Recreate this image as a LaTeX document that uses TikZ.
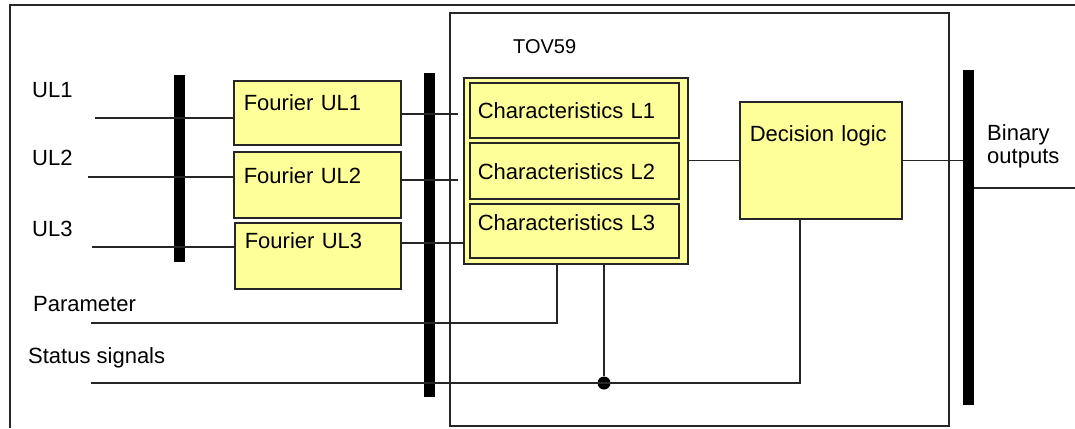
\documentclass[tikz,border=0pt]{standalone}
\usepackage{fontspec}
\setmainfont{Liberation Sans}
\usepackage{xcolor}
\usepackage{tikz}
\usetikzlibrary{positioning,calc}
\definecolor{pbyellow}{RGB}{255,255,153}
\tikzset{
  pbbox/.style={
    rectangle, draw=black!85, line width=1.6pt, fill=pbyellow,
    anchor=north west, inner xsep=10pt, inner ysep=0pt,
    align=left, font=\fontsize{22}{24}\selectfont
  },
  pbchar/.style={pbbox, inner xsep=8pt, text width=193pt},
  pbframe/.style={rectangle, draw=black!85, line width=1.6pt, anchor=north west, inner sep=0pt},
  pbbar/.style={rectangle, fill=black, minimum width=11pt, inner sep=0pt},
  pbline/.style={line width=1.6pt, draw=black!85},
  pblabel/.style={anchor=base west, inner sep=0pt, font=\fontsize{22}{24}\selectfont},
  pbdot/.style={circle, fill=black, minimum size=13pt, inner sep=0pt},
}
\begin{document}
\begin{tikzpicture}[x=1pt, y=-1pt]
  \useasboundingbox (0,0) rectangle (1075,428);
  \draw[pbline] (10,428) -- (10,5) -- (1075,5);
  % function block
  \node (tov) [pbframe, minimum width=499pt, minimum height=413pt] at (449,12) {};
  \node (tovname) [pblabel, font=\fontsize{20}{22}\selectfont] at (513,53) {TOV59};
  % bars
  \node (bar1) [pbbar, minimum height=187pt] at (179,168.5) {};
  \node (bar2) [pbbar, minimum height=324pt] at (429.5,235) {};
  \node (bar3) [pbbar, minimum height=335pt] at (968.5,237.5) {};
  % inputs
  \node (ul1) [pblabel] at (32,97) {UL1};
  \node (ul2) [pblabel] at (32,165) {UL2};
  \node (ul3) [pblabel] at (32,236) {UL3};
  \node (par) [pblabel] at (33,311) {Parameter};
  \node (stat) [pblabel] at (28,363) {Status signals};
  \node (bin) [pblabel, anchor=north west, align=left, font=\fontsize{22}{23}\selectfont] at (987,124) {Binary\\outputs};
  \coordinate (in1) at (95,118);
  \coordinate (in2) at (88,177);
  \coordinate (in3) at (92,247);
  \coordinate (inp) at (91,323);
  \coordinate (ins) at (91,383);
  \coordinate (out) at (1075,188);
  % Fourier blocks
  \node (f1) [pbbox, text width=147pt, text height=30pt, text depth=34pt] at (233,80) {Fourier UL1};
  \node (f2) [pbbox, text width=147pt, text height=32pt, text depth=34pt] at (233,151) {Fourier UL2};
  \node (f3) [pbbox, text width=146pt, text height=26pt, text depth=40pt] at (234,222) {Fourier UL3};
  % characteristics
  \node (chfr) [pbframe, fill=pbyellow, minimum width=224pt, minimum height=186pt] at (463,77) {};
  \node (c1) [pbchar, text height=36pt, text depth=19pt] at (469,82) {Characteristics L1};
  \node (c2) [pbchar, text height=37pt, text depth=19pt] at (469,142) {Characteristics L2};
  \node (c3) [pbchar, text height=27pt, text depth=27pt] at (469,203) {Characteristics L3};
  \node (dl) [pbbox, text width=142pt, text height=40pt, text depth=77pt] at (739,101) {Decision logic};
  \coordinate (k1) at (458,114);
  \coordinate (k2) at (458,180);
  \coordinate (k3) at (465,243);
  \coordinate (pk) at ($(chfr.south west)+(94,0)$);
  \node (jn) [pbdot] at (604,383) {};
  % connections
  \draw[pbline] (in1) -- (in1 -| f1.west);
  \draw[pbline] (in2) -- (in2 -| f2.west);
  \draw[pbline] (in3) -- (in3 -| f3.west);
  \draw[pbline] (k1 -| f1.east) -- (k1);
  \draw[pbline] (k2 -| f2.east) -- (k2);
  \draw[pbline] (k3 -| f3.east) -- (k3);
  \draw[pbline] (dl.west -| chfr.east) -- (dl.west);
  \draw[pbline] (dl.east) -- (dl.east -| bar3.west);
  \draw[pbline] (bar3.east |- out) -- (out);
  \draw[pbline] (inp) -| (pk);
  \draw[pbline] (ins) -| ([xshift=-21pt]dl.south);
  \draw[pbline] (jn) -- (jn |- chfr.south);
\end{tikzpicture}
\end{document}
